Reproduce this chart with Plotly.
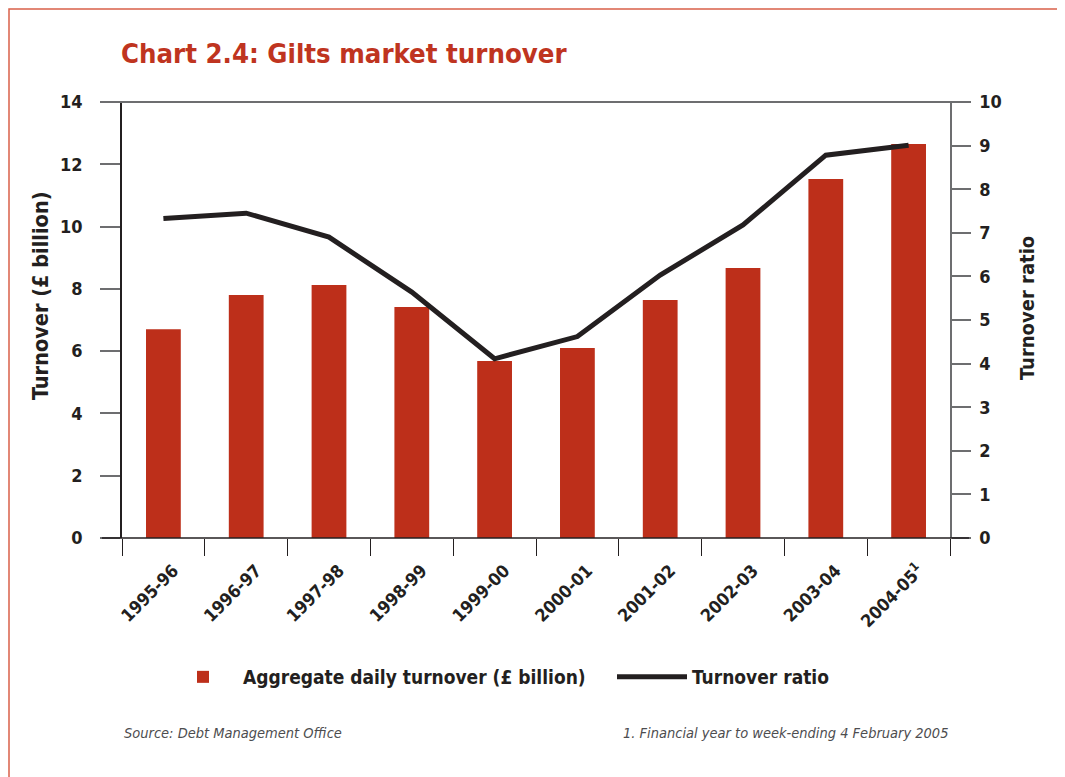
import plotly.graph_objects as go

categories = ["1995-96", "1996-97", "1997-98", "1998-99", "1999-00",
              "2000-01", "2001-02", "2002-03", "2003-04", "2004-05<sup>1</sup>"]
turnover = [6.7, 7.8, 8.12, 7.42, 5.68, 6.1, 7.64, 8.67, 11.53, 12.65]
ratio = [7.33, 7.45, 6.9, 5.64, 4.11, 4.62, 6.03, 7.18, 8.78, 9.01]

left_ticks = [0, 2, 4, 6, 8, 10, 12, 14]
right_ticks = list(range(0, 11))

FONT = "DejaVu Sans Condensed, Liberation Sans Narrow, sans-serif"
INK = "#231f20"
RED = "#bd2f1a"
AXIS = "#6d6e70"

# page is offset by the 8px body margin; figure drawn 1057x769
W, H = 1057, 769
L, T, PW, PH = 114, 94, 828, 436

def px_x(p):  # page pixel -> paper x
    return (p - 8 - L) / PW

def px_y(p):  # page pixel -> paper y
    return (T + PH - (p - 8)) / PH

fig = go.Figure()
fig.add_trace(go.Bar(x=categories, y=turnover, name="Aggregate daily turnover (£ billion)",
                     marker=dict(color=RED, line=dict(width=0)), width=0.42, yaxis="y",
                     legendwidth=364))
fig.add_trace(go.Scatter(x=categories, y=ratio, name="Turnover ratio", mode="lines",
                         line=dict(color=INK, width=5), yaxis="y2"))

tickfont = dict(family=FONT, size=18, color=INK, weight="bold")
fig.update_layout(
    width=W, height=H,
    margin=dict(l=L, r=W - L - PW, t=T, b=H - T - PH, autoexpand=False),
    paper_bgcolor="white", plot_bgcolor="white",
    font=dict(family=FONT, color=INK),
    title=dict(text="Chart 2.4: Gilts market turnover", x=(L - 1) / W, xanchor="left",
               y=1 - 45 / H, yanchor="middle",
               font=dict(family=FONT, size=27.3, color="#bf3420", weight="bold")),
    xaxis=dict(type="category", tickson="boundaries", ticks="outside", ticklen=17,
               tickcolor=INK, tickwidth=1, showline=False, showgrid=False,
               tickangle=-45, ticklabelstandoff=18, ticklabelshift=10,
               tickfont=dict(family=FONT, size=17.5, color=INK, weight="bold"),
               range=[-0.5, 9.5]),
    yaxis=dict(range=[0, 14], tickvals=left_ticks, ticks="outside", ticklen=20,
               tickcolor=AXIS, tickwidth=2, showline=True, linecolor=INK, linewidth=1.5,
               showgrid=False, zeroline=False, tickfont=tickfont, ticklabelstandoff=14),
    yaxis2=dict(range=[0, 10], tickvals=right_ticks, overlaying="y", side="right",
                ticks="outside", ticklen=19, tickcolor=AXIS, tickwidth=2,
                showline=True, linecolor=AXIS, linewidth=1.5, showgrid=False, zeroline=False,
                tickfont=tickfont, ticklabelstandoff=5),
    legend=dict(orientation="h", x=px_x(163), xanchor="left", y=px_y(677), yanchor="middle",
                font=dict(family=FONT, size=19, color=INK, weight="bold"),
                itemwidth=70, traceorder="normal", bgcolor="rgba(0,0,0,0)"),
    showlegend=True,
)

# axis titles
fig.add_annotation(text="Turnover (£ billion)", xref="paper", yref="paper",
                   x=px_x(40), y=px_y(296), textangle=-90, showarrow=False,
                   xanchor="center", yanchor="middle",
                   font=dict(family=FONT, size=21.5, color=INK, weight="bold"))
fig.add_annotation(text="Turnover ratio", xref="paper", yref="paper",
                   x=px_x(1027), y=px_y(308), textangle=-90, showarrow=False,
                   xanchor="center", yanchor="middle",
                   font=dict(family=FONT, size=20, color=INK, weight="bold"))

# top frame line at 14 and extended baseline, as in the original
fig.add_shape(type="line", xref="paper", yref="paper", x0=-20 / PW, x1=1 + 19 / PW, y0=1, y1=1,
              line=dict(color=AXIS, width=2))
fig.add_shape(type="line", xref="paper", yref="paper", x0=-20 / PW, x1=1 + 19 / PW, y0=0, y1=0,
              line=dict(color=INK, width=1.5))
# outer border
fig.add_shape(type="rect", xref="paper", yref="paper",
              x0=(1 - L) / PW, x1=(1050 - L) / PW, y0=(T + PH - 1) / PH, y1=(T + PH - 800) / PH,
              line=dict(color="#d9604a", width=1.5))

foot_y = px_y(733)
fig.add_annotation(text="Source: Debt Management Office", xref="paper", yref="paper",
                   x=0, y=foot_y, xanchor="left", yanchor="middle", showarrow=False,
                   font=dict(family=FONT, size=14.5, color="#4d4d4f", style="italic"))
fig.add_annotation(text="1. Financial year to week-ending 4 February 2005", xref="paper", yref="paper",
                   x=1, y=foot_y, xanchor="right", yanchor="middle", showarrow=False,
                   font=dict(family=FONT, size=14.5, color="#4d4d4f", style="italic"))

fig.write_html("out.html")
